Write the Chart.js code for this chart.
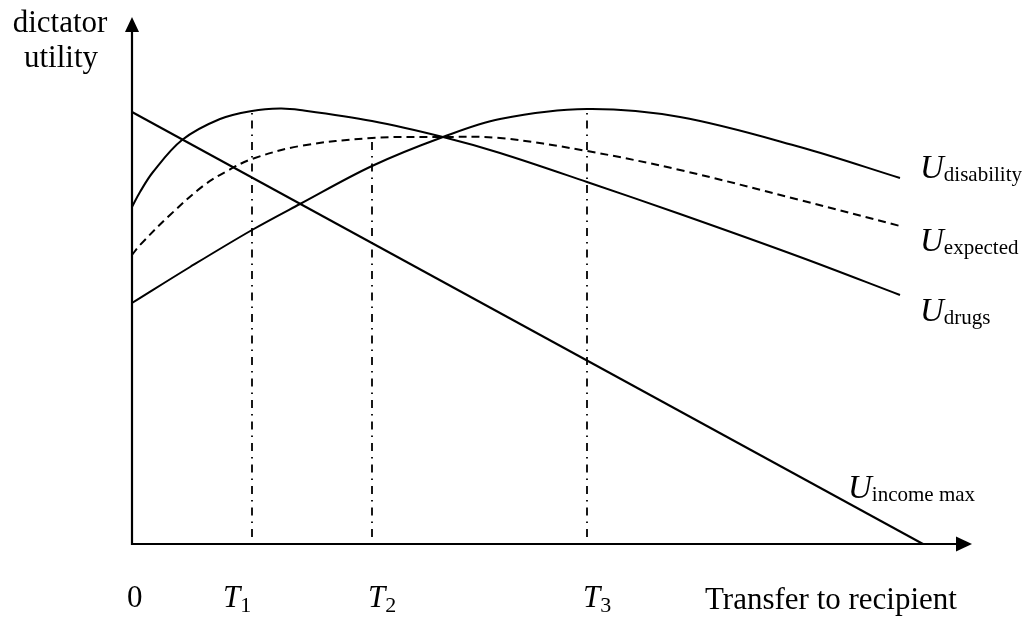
<!DOCTYPE html>
<html>
<head>
<meta charset="utf-8">
<script src="https://cdn.jsdelivr.net/npm/chart.js@4.4.0/dist/chart.umd.min.js"></script>
<style>
  body { margin: 0; background: #fff; }
  canvas { display: block; }
</style>
</head>
<body>
<canvas id="myChart" width="1027" height="624"></canvas>
<script>
// transfer (x) and dictator utility (y)
const incomeT = [0, 791];
const incomeU = [432, 0];

const drugsT = [0, 8, 21, 50, 88, 120, 148, 168, 240, 311, 368, 455, 548, 668, 768];
const drugsU = [337, 352, 372, 404, 425, 433, 435.5, 434, 423, 407, 391, 362, 330, 287, 249];

const disabilityT = [0, 58, 120, 168, 240, 311, 368, 455, 548, 668, 768];
const disabilityU = [241, 277, 314, 340, 378, 407, 425, 435, 427, 397, 366];

const expectedT = [0, 8, 38, 71, 95, 120, 168, 240, 311, 368, 455, 548, 668, 768];
const expectedU = [289, 299, 329, 358, 373, 385, 398, 406, 407, 406, 393, 374, 344, 318];

// optimal transfers T1..T3 and where their guide lines stop
const tValues = [120, 240, 455];
const tTops = [433, 406, 435];
const tNames = ["1", "2", "3"];

const seriesNames = ["disability", "expected", "drugs", "income max"];

const xMax = 840;
const yMax = 527;

const pts = (xs, ys) => xs.map((x, i) => ({ x: x, y: ys[i] }));

const curve = (data, dash) => ({
    data: data,
    borderColor: "#000",
    borderWidth: 2,
    borderDash: dash || [],
    pointRadius: 0,
    tension: 0.35,
    fill: false,
    clip: false
});

const datasets = [
    curve(pts(incomeT, incomeU)),
    curve(pts(drugsT, drugsU)),
    curve(pts(disabilityT, disabilityU)),
    curve(pts(expectedT, expectedU), [8, 5])
];

//lineas verticales punto-raya en T1, T2, T3
tValues.forEach((t, i) => {
    datasets.push({
        data: [{ x: t, y: 7 }, { x: t, y: tTops[i] }],
        borderColor: "#000",
        borderWidth: 1.8,
        borderDash: [8, 6, 1.5, 6],
        pointRadius: 0,
        fill: false,
        clip: false
    });
});

const serif = '"Liberation Serif", "Times New Roman", serif';

function subLabel(ctx, main, sub, x, y, mainFont, subFont, drop) {
    ctx.font = mainFont;
    ctx.fillText(main, x, y);
    const w = ctx.measureText(main).width;
    ctx.font = subFont;
    ctx.fillText(sub, x + w, y + drop);
}

const axesPlugin = {
    id: "axesPlugin",
    afterDraw(chart) {
        const ctx = chart.ctx;
        const xs = chart.scales.x;
        const ys = chart.scales.y;
        const x0 = xs.getPixelForValue(0);
        const y0 = ys.getPixelForValue(0);
        const xEnd = xs.getPixelForValue(xMax);
        const yEnd = ys.getPixelForValue(yMax);

        ctx.save();
        ctx.strokeStyle = "#000";
        ctx.fillStyle = "#000";
        ctx.lineWidth = 2.2;
        ctx.setLineDash([]);

        // ejes
        ctx.beginPath();
        ctx.moveTo(x0, yEnd + 10);
        ctx.lineTo(x0, y0);
        ctx.lineTo(xEnd - 10, y0);
        ctx.stroke();

        // flechas
        ctx.beginPath();
        ctx.moveTo(x0, yEnd);
        ctx.lineTo(x0 - 7, yEnd + 15);
        ctx.lineTo(x0 + 7, yEnd + 15);
        ctx.closePath();
        ctx.fill();

        ctx.beginPath();
        ctx.moveTo(xEnd, y0);
        ctx.lineTo(xEnd - 16, y0 - 7.5);
        ctx.lineTo(xEnd - 16, y0 + 7.5);
        ctx.closePath();
        ctx.fill();

        // textos
        ctx.textBaseline = "alphabetic";
        ctx.textAlign = "center";
        ctx.font = "31px " + serif;
        ctx.fillText("dictator", 60, 32);
        ctx.fillText("utility", 61, 67);

        ctx.textAlign = "left";
        const base = 607;
        ctx.fillText("0", x0 - 5, base);
        ctx.fillText("Transfer to recipient", 705, base + 2);

        const tShift = [-29, -4, -4];
        tValues.forEach((t, i) => {
            subLabel(ctx, "T", tNames[i], xs.getPixelForValue(t) + tShift[i], base,
                "italic 31px " + serif, "22px " + serif, 5);
        });

        // etiquetas de las curvas
        const labelPos = [[920, 178], [920, 251], [920, 321], [848, 498]];
        seriesNames.forEach((name, i) => {
            subLabel(ctx, "U", name, labelPos[i][0], labelPos[i][1],
                "italic 33px " + serif, "21px " + serif, 3);
        });
        ctx.restore();
    }
};

const config = {
    type: "line",
    data: { datasets: datasets },
    options: {
        responsive: false,
        animation: false,
        layout: { padding: { left: 132, right: 55, top: 17, bottom: 80 } },
        plugins: {
            legend: { display: false },
            tooltip: { enabled: false }
        },
        scales: {
            x: { type: "linear", min: 0, max: xMax, display: false },
            y: { type: "linear", min: 0, max: yMax, display: false }
        }
    },
    plugins: [axesPlugin]
};

new Chart(document.getElementById("myChart").getContext("2d"), config);
</script>
</body>
</html>
